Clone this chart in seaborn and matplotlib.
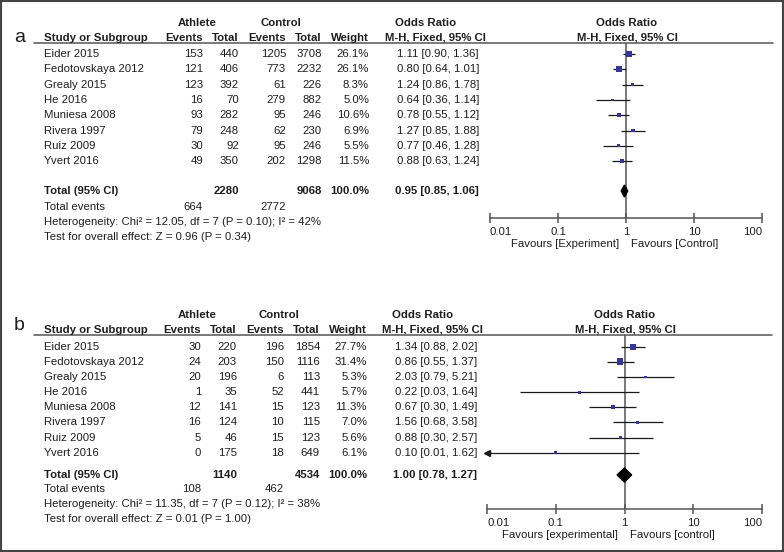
import matplotlib
matplotlib.use("Agg")
import matplotlib.pyplot as plt
import seaborn as sns
import numpy as np
from matplotlib.patches import Rectangle, Polygon
from matplotlib.ticker import NullLocator

# ---------------- data ----------------
studies = ["Eider 2015", "Fedotovskaya 2012", "Grealy 2015", "He 2016",
           "Muniesa 2008", "Rivera 1997", "Ruiz 2009", "Yvert 2016"]

a_ath_events = [153, 121, 123, 16, 93, 79, 30, 49]
a_ath_total = [440, 406, 392, 70, 282, 248, 92, 350]
a_ctl_events = [1205, 773, 61, 279, 95, 62, 95, 202]
a_ctl_total = [3708, 2232, 226, 882, 246, 230, 246, 1298]
a_weight = [26.1, 26.1, 8.3, 5.0, 10.6, 6.9, 5.5, 11.5]
a_or = [1.11, 0.80, 1.24, 0.64, 0.78, 1.27, 0.77, 0.88]
a_lo = [0.90, 0.64, 0.86, 0.36, 0.55, 0.85, 0.46, 0.63]
a_hi = [1.36, 1.01, 1.78, 1.14, 1.12, 1.88, 1.28, 1.24]
a_totals = [2280, 9068]
a_total_events = [664, 2772]
a_pooled = [0.95, 0.85, 1.06]
a_het = "Heterogeneity: Chi² = 12.05, df = 7 (P = 0.10); I² = 42%"
a_test = "Test for overall effect: Z = 0.96 (P = 0.34)"
a_favours = ["Favours [Experiment]", "Favours [Control]"]

b_ath_events = [30, 24, 20, 1, 12, 16, 5, 0]
b_ath_total = [220, 203, 196, 35, 141, 124, 46, 175]
b_ctl_events = [196, 150, 6, 52, 15, 10, 15, 18]
b_ctl_total = [1854, 1116, 113, 441, 123, 115, 123, 649]
b_weight = [27.7, 31.4, 5.3, 5.7, 11.3, 7.0, 5.6, 6.1]
b_or = [1.34, 0.86, 2.03, 0.22, 0.67, 1.56, 0.88, 0.10]
b_lo = [0.88, 0.55, 0.79, 0.03, 0.30, 0.68, 0.30, 0.01]
b_hi = [2.02, 1.37, 5.21, 1.64, 1.49, 3.58, 2.57, 1.62]
b_totals = [1140, 4534]
b_total_events = [108, 462]
b_pooled = [1.00, 0.78, 1.27]
b_het = "Heterogeneity: Chi² = 11.35, df = 7 (P = 0.12); I² = 38%"
b_test = "Test for overall effect: Z = 0.01 (P = 1.00)"
b_favours = ["Favours [experimental]", "Favours [control]"]

tick_vals = [0.01, 0.1, 1, 10, 100]
tick_labels = ["0.01", "0.1", "1", "10", "100"]

# ---------------- style ----------------
sns.set_theme(style="white")
plt.rcParams['font.family'] = ['Liberation Sans', 'DejaVu Sans']

W, H = 784, 552
fig = plt.figure(figsize=(W / 100, H / 100), dpi=100)
bg = fig.add_axes([0, 0, 1, 1])
bg.set_xlim(0, W)
bg.set_ylim(H, 0)
bg.axis('off')

FS = 8.2
TC = '#1e1e1e'
LC = '#555555'
SQ = '#35359a'


def txt(x, y, s, ha='left', bold=False, size=FS):
    bg.text(x, y, s, ha=ha, va='center', fontsize=size, color=TC,
            fontweight='bold' if bold else 'normal')


panels = [
    dict(label="a", label_y=37.5, h1=23, h2=38, line=42.5, row0=54, dy=15.3,
         tot=191, ev=207, het=222, test=237.5, dx=0,
         ax_l=490, ax_r=762, ax_y=218, line_r=773, dh=6,
         ae=a_ath_events, at=a_ath_total, ce=a_ctl_events, ct=a_ctl_total,
         w=a_weight, orr=a_or, lo=a_lo, hi=a_hi, totals=a_totals,
         tev=a_total_events, pooled=a_pooled, hets=a_het, tests=a_test,
         fav=a_favours, c_ath=197, c_ctl=281, c_or=426, c_mh=435, c_por=627),
    dict(label="b", label_y=326, h1=315, h2=330, line=335, row0=346.7, dy=15.15,
         tot=475, ev=489, het=504, test=519, dx=-2,
         ax_l=487, ax_r=762, ax_y=509, line_r=772, dh=7,
         ae=b_ath_events, at=b_ath_total, ce=b_ctl_events, ct=b_ctl_total,
         w=b_weight, orr=b_or, lo=b_lo, hi=b_hi, totals=b_totals,
         tev=b_total_events, pooled=b_pooled, hets=b_het, tests=b_test,
         fav=b_favours, c_ath=197, c_ctl=279, c_or=423, c_mh=432, c_por=625),
]

col_study = 44
col_ae, col_at, col_ce, col_ct, col_w, col_or = 203, 239, 286, 322, 369, 479

for p in panels:
    dx = p['dx']
    # panel letter
    bg.text(14, p['label_y'], p['label'], ha='left', va='center', fontsize=14, color=TC)
    # header row 1
    txt(p['c_ath'], p['h1'], "Athlete", ha='center', bold=True)
    txt(p['c_ctl'], p['h1'], "Control", ha='center', bold=True)
    txt(p['c_or'], p['h1'], "Odds Ratio", ha='center', bold=True)
    txt(p['c_por'], p['h1'], "Odds Ratio", ha='center', bold=True)
    # header row 2
    txt(col_study, p['h2'], "Study or Subgroup", bold=True)
    txt(col_ae + dx, p['h2'], "Events", ha='right', bold=True)
    txt(col_at + dx, p['h2'], "Total", ha='right', bold=True)
    txt(col_ce + dx, p['h2'], "Events", ha='right', bold=True)
    txt(col_ct + dx, p['h2'], "Total", ha='right', bold=True)
    txt(col_w + dx, p['h2'], "Weight", ha='right', bold=True)
    txt(p['c_mh'], p['h2'], "M-H, Fixed, 95% CI", ha='center', bold=True)
    txt(p['c_por'], p['h2'], "M-H, Fixed, 95% CI", ha='center', bold=True)
    bg.plot([34, p['line_r']], [p['line'], p['line']], color=LC, lw=1.1)

    rows = [p['row0'] + i * p['dy'] for i in range(len(studies))]
    for i, s in enumerate(studies):
        y = rows[i]
        txt(col_study, y, s)
        txt(col_ae + dx, y, str(p['ae'][i]), ha='right')
        txt(col_at + dx, y, str(p['at'][i]), ha='right')
        txt(col_ce + dx, y, str(p['ce'][i]), ha='right')
        txt(col_ct + dx, y, str(p['ct'][i]), ha='right')
        txt(col_w + dx, y, f"{p['w'][i]:.1f}%", ha='right')
        txt(col_or + dx, y, f"{p['orr'][i]:.2f} [{p['lo'][i]:.2f}, {p['hi'][i]:.2f}]", ha='right')

    # totals
    txt(col_study, p['tot'], "Total (95% CI)", bold=True)
    txt(col_at + dx, p['tot'], str(p['totals'][0]), ha='right', bold=True)
    txt(col_ct + dx, p['tot'], str(p['totals'][1]), ha='right', bold=True)
    txt(col_w + dx, p['tot'], "100.0%", ha='right', bold=True)
    pe, pl, ph = p['pooled']
    txt(col_or + dx, p['tot'], f"{pe:.2f} [{pl:.2f}, {ph:.2f}]", ha='right', bold=True)
    txt(col_study, p['ev'], "Total events")
    txt(col_ae + dx, p['ev'], str(p['tev'][0]), ha='right')
    txt(col_ce + dx, p['ev'], str(p['tev'][1]), ha='right')
    txt(col_study, p['het'], p['hets'])
    txt(col_study, p['test'], p['tests'])

    # forest axes: y data units == figure pixels
    ax = fig.add_axes([p['ax_l'] / W, 1 - p['ax_y'] / H,
                       (p['ax_r'] - p['ax_l']) / W, (p['ax_y'] - p['line']) / H])
    ax.set_facecolor('none')
    ax.set_xscale('log')

    xmin = tick_vals[0]
    for i in range(len(studies)):
        lo = max(p['lo'][i], xmin)
        ax.plot([lo, p['hi'][i]], [rows[i], rows[i]], color='#1a1a1a', lw=0.9, zorder=2,
                solid_capstyle='butt')
        if p['lo'][i] <= xmin:
            ax.plot([xmin], [rows[i]], marker='<', ms=4, color='#1a1a1a',
                    clip_on=False, zorder=2, linestyle='none')
    sns.scatterplot(x=p['orr'], y=rows, size=p['w'], sizes=(0, 30), size_norm=(0, 40),
                    marker='s', color=SQ, linewidth=0, legend=False, ax=ax, zorder=3)

    ax.set_xlim(tick_vals[0], tick_vals[-1])
    ax.set_ylim(p['ax_y'], p['line'])
    ax.set_xlabel('')
    ax.set_ylabel('')
    for side in ['top', 'left', 'right']:
        ax.spines[side].set_visible(False)
    ax.spines['bottom'].set_color(LC)
    ax.spines['bottom'].set_linewidth(1.1)
    ax.set_xticks(tick_vals)
    ax.set_xticklabels(tick_labels)
    ax.xaxis.set_minor_locator(NullLocator())
    ax.set_yticks([])
    ax.tick_params(axis='x', direction='inout', length=7, width=1.1, colors=LC,
                   labelcolor=TC, labelsize=FS, pad=3, bottom=True)
    labs = ax.get_xticklabels()
    labs[0].set_horizontalalignment('left')
    labs[-1].set_horizontalalignment('right')
    ax.axvline(1, color=LC, lw=1.1, zorder=1)

    yt = p['tot']
    h = p['dh']
    ax.add_patch(Polygon([(pl, yt), (pe, yt - h), (ph, yt), (pe, yt + h)],
                         closed=True, color='black', zorder=4))

    ax.annotate(p['fav'][0], xy=(1, 0), xycoords=('data', 'axes fraction'),
                xytext=(-7, -26), textcoords='offset pixels', ha='right', va='center',
                fontsize=FS, color=TC, annotation_clip=False)
    ax.annotate(p['fav'][1], xy=(1, 0), xycoords=('data', 'axes fraction'),
                xytext=(5, -26), textcoords='offset pixels', ha='left', va='center',
                fontsize=FS, color=TC, annotation_clip=False)

bg.add_patch(Rectangle((0.75, 0.75), W - 1.5, H - 1.5, fill=False, ec='#444444', lw=1.5))

fig.savefig("out.png", dpi=100)
